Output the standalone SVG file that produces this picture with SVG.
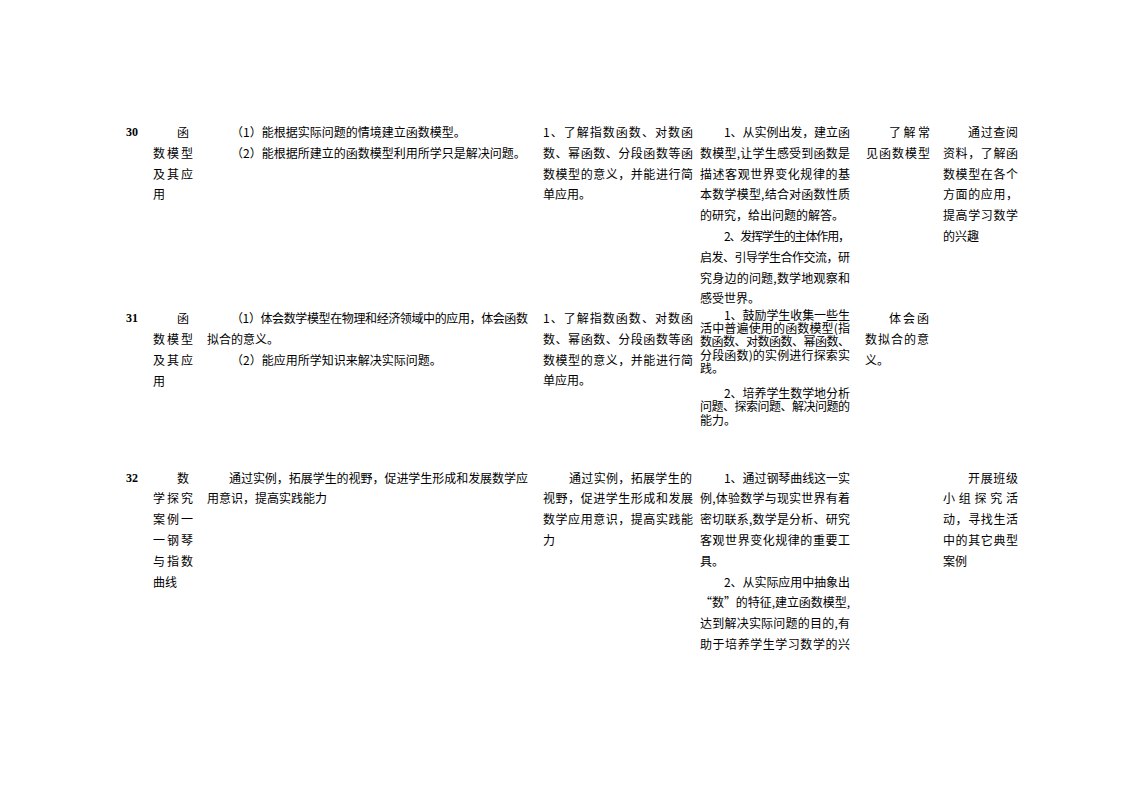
<svg xmlns="http://www.w3.org/2000/svg" width="1123" height="794" viewBox="0 0 1123 794">
<style>
.t { font-family: "Noto Sans CJK SC", "Noto Sans CJK JP", sans-serif; font-size: 12px; fill: #000; }
.n { font-family: "Liberation Serif", serif; font-size: 12px; font-weight: bold; fill: #000; }
</style>
<rect width="1123" height="794" fill="#fff"/>
<g id="row30">
  <g id="r30-no"><text class="n" x="126" y="136">30</text></g>
  <g id="r30-topic" class="t">
    <text x="177" y="137">函</text>
    <text x="153" y="157.8" textLength="40" lengthAdjust="spacing">数模型</text>
    <text x="153" y="178.6" textLength="40" lengthAdjust="spacing">及其应</text>
    <text x="153" y="199.4">用</text>
  </g>
  <g id="r30-goal" class="t">
    <text x="231" y="137">（1）能根据实际问题的情境建立函数模型。</text>
    <text x="231" y="157.8">（2）能根据所建立的函数模型利用所学只是解决问题。</text>
  </g>
  <g id="r30-req" class="t">
    <text x="543" y="137" textLength="150" lengthAdjust="spacing">1、了解指数函数、对数函</text>
    <text x="543" y="157.8" textLength="150" lengthAdjust="spacing">数、幂函数、分段函数等函</text>
    <text x="543" y="178.6" textLength="150" lengthAdjust="spacing">数模型的意义，并能进行简</text>
    <text x="543" y="199.4">单应用。</text>
  </g>
  <g id="r30-method" class="t">
    <text x="724" y="137" textLength="126" lengthAdjust="spacing">1、从实例出发，建立函</text>
    <text x="700" y="157.8" textLength="150" lengthAdjust="spacing">数模型,让学生感受到函数是</text>
    <text x="700" y="178.6" textLength="150" lengthAdjust="spacing">描述客观世界变化规律的基</text>
    <text x="700" y="199.4" textLength="150" lengthAdjust="spacing">本数学模型,结合对函数性质</text>
    <text x="700" y="220.2">的研究，给出问题的解答。</text>
    <text x="724" y="241" textLength="126" lengthAdjust="spacing">2、发挥学生的主体作用，</text>
    <text x="700" y="261.8" textLength="150" lengthAdjust="spacing">启发、引导学生合作交流，研</text>
    <text x="700" y="282.6" textLength="150" lengthAdjust="spacing">究身边的问题,数学地观察和</text>
    <text x="700" y="303.4">感受世界。</text>
  </g>
  <g id="r30-key" class="t">
    <text x="889" y="137" textLength="41" lengthAdjust="spacing">了解常</text>
    <text x="866" y="157.8" textLength="64" lengthAdjust="spacing">见函数模型</text>
  </g>
  <g id="r30-act" class="t">
    <text x="968" y="137" textLength="50" lengthAdjust="spacing">通过查阅</text>
    <text x="943" y="157.8" textLength="75" lengthAdjust="spacing">资料，了解函</text>
    <text x="943" y="178.6" textLength="75" lengthAdjust="spacing">数模型在各个</text>
    <text x="943" y="199.4" textLength="75" lengthAdjust="spacing">方面的应用，</text>
    <text x="943" y="220.2" textLength="75" lengthAdjust="spacing">提高学习数学</text>
    <text x="943" y="241">的兴趣</text>
  </g>
</g>
<g id="row31">
  <g id="r31-no"><text class="n" x="126" y="322">31</text></g>
  <g id="r31-topic" class="t">
    <text x="177" y="322.5">函</text>
    <text x="153" y="343.5" textLength="40" lengthAdjust="spacing">数模型</text>
    <text x="153" y="364.5" textLength="40" lengthAdjust="spacing">及其应</text>
    <text x="153" y="385.5">用</text>
  </g>
  <g id="r31-goal" class="t">
    <text x="231" y="322.5" textLength="297" lengthAdjust="spacing">（1）体会数学模型在物理和经济领域中的应用，体会函数</text>
    <text x="207" y="343.5">拟合的意义。</text>
    <text x="231" y="364.5">（2）能应用所学知识来解决实际问题。</text>
  </g>
  <g id="r31-req" class="t">
    <text x="543" y="322.5" textLength="150" lengthAdjust="spacing">1、了解指数函数、对数函</text>
    <text x="543" y="343.5" textLength="150" lengthAdjust="spacing">数、幂函数、分段函数等函</text>
    <text x="543" y="364.5" textLength="150" lengthAdjust="spacing">数模型的意义，并能进行简</text>
    <text x="543" y="385">单应用。</text>
  </g>
  <g id="r31-method" class="t">
    <text x="724" y="319.5" textLength="126" lengthAdjust="spacing">1、鼓励学生收集一些生</text>
    <text x="700" y="332.8" textLength="150" lengthAdjust="spacing">活中普遍使用的函数模型(指</text>
    <text x="700" y="346.3" textLength="150" lengthAdjust="spacing">数函数、对数函数、幂函数、</text>
    <text x="700" y="359.6" textLength="150" lengthAdjust="spacing">分段函数)的实例进行探索实</text>
    <text x="700" y="372.8">践。</text>
    <text x="724" y="397.5" textLength="126" lengthAdjust="spacing">2、培养学生数学地分析</text>
    <text x="700" y="411.3" textLength="150" lengthAdjust="spacing">问题、探索问题、解决问题的</text>
    <text x="700" y="425.3">能力。</text>
  </g>
  <g id="r31-key" class="t">
    <text x="889" y="322.5" textLength="40" lengthAdjust="spacing">体会函</text>
    <text x="865" y="343.5" textLength="64" lengthAdjust="spacing">数拟合的意</text>
    <text x="865" y="364.5">义。</text>
  </g>
</g>
<g id="row32">
  <g id="r32-no"><text class="n" x="126" y="482">32</text></g>
  <g id="r32-topic" class="t">
    <text x="177" y="482.5">数</text>
    <text x="153" y="503.3" textLength="40" lengthAdjust="spacing">学探究</text>
    <text x="153" y="524.1" textLength="40" lengthAdjust="spacing">案例一</text>
    <text x="153" y="544.9" textLength="40" lengthAdjust="spacing">一钢琴</text>
    <text x="153" y="565.7" textLength="40" lengthAdjust="spacing">与指数</text>
    <text x="153" y="586.5">曲线</text>
  </g>
  <g id="r32-goal" class="t">
    <text x="229" y="482.5" textLength="299" lengthAdjust="spacing">通过实例，拓展学生的视野，促进学生形成和发展数学应</text>
    <text x="207" y="503.3">用意识，提高实践能力</text>
  </g>
  <g id="r32-req" class="t">
    <text x="569" y="482.5" textLength="123" lengthAdjust="spacing">通过实例，拓展学生的</text>
    <text x="543" y="503.3" textLength="150" lengthAdjust="spacing">视野，促进学生形成和发展</text>
    <text x="543" y="524.1" textLength="150" lengthAdjust="spacing">数学应用意识，提高实践能</text>
    <text x="543" y="544.9">力</text>
  </g>
  <g id="r32-method" class="t">
    <text x="724" y="482.5" textLength="126" lengthAdjust="spacing">1、通过钢琴曲线这一实</text>
    <text x="700" y="503.3" textLength="150" lengthAdjust="spacing">例,体验数学与现实世界有着</text>
    <text x="700" y="524.1" textLength="150" lengthAdjust="spacing">密切联系,数学是分析、研究</text>
    <text x="700" y="544.9" textLength="150" lengthAdjust="spacing">客观世界变化规律的重要工</text>
    <text x="700" y="565.7">具。</text>
    <text x="724" y="586.5" textLength="126" lengthAdjust="spacing">2、从实际应用中抽象出</text>
    <text x="700" y="607.3" textLength="150" lengthAdjust="spacing">“数”的特征,建立函数模型,</text>
    <text x="700" y="628.1" textLength="150" lengthAdjust="spacing">达到解决实际问题的目的,有</text>
    <text x="700" y="648.9" textLength="150" lengthAdjust="spacing">助于培养学生学习数学的兴</text>
  </g>
  <g id="r32-act" class="t">
    <text x="968" y="482.5" textLength="50" lengthAdjust="spacing">开展班级</text>
    <text x="943" y="503.3" textLength="75" lengthAdjust="spacing">小组探究活</text>
    <text x="943" y="524.1" textLength="75" lengthAdjust="spacing">动，寻找生活</text>
    <text x="943" y="544.9" textLength="75" lengthAdjust="spacing">中的其它典型</text>
    <text x="943" y="565.7">案例</text>
  </g>
</g>
</svg>
